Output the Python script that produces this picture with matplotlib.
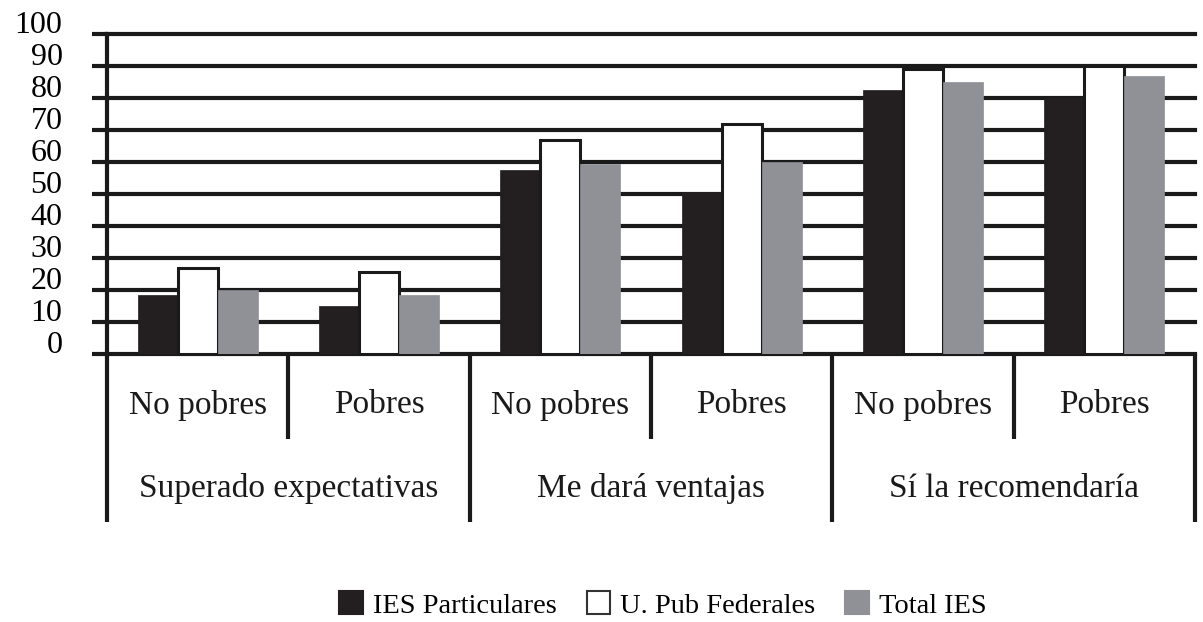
import matplotlib.pyplot as plt
import matplotlib.transforms as mtransforms
from matplotlib.patches import Patch
import numpy as np

plt.rcParams['font.family'] = ['Liberation Serif', 'DejaVu Serif']

# datos
sub_labels = ["No pobres", "Pobres", "No pobres", "Pobres", "No pobres", "Pobres"]
group_labels = ["Superado expectativas", "Me dará ventajas", "Sí la recomendaría"]
series_names = ["IES Particulares", "U. Pub Federales", "Total IES"]
ies_particulares = [18.5, 15, 57.5, 50.5, 82.5, 80]
u_pub_federales = [27, 25.5, 67, 72, 89, 90]
total_ies = [20, 18.5, 59.5, 60, 85, 87]
yticks = [0, 10, 20, 30, 40, 50, 60, 70, 80, 90, 100]

colors = ["#231f20", "white", "#8f9196"]
edges = ["#231f20", "#1a1a1a", "#8f9196"]

fig = plt.figure(figsize=(12.03, 6.22), dpi=100)
ax = fig.add_axes([107/1203, 1 - 354/622, (1195 - 107)/1203, 320/622])

x = np.arange(len(sub_labels))
w = 0.22
allvals = [ies_particulares, u_pub_federales, total_ies]
for i, vals in enumerate(allvals):
    ax.bar(x + (i - 1) * w, vals, w, color=colors[i], edgecolor=edges[i],
           linewidth=2.2 if i == 1 else 0.5, label=series_names[i], zorder=3)

ax.set_xlim(-0.5, 5.5)
ax.set_ylim(0, 100)
ax.set_yticks(yticks)
ax.set_xticks([])
ax.yaxis.grid(True, color="#1a1a1a", linewidth=3)
for gl in ax.get_ygridlines():
    gl.set_clip_on(False)
ax.set_axisbelow(True)
ax.tick_params(axis='y', direction='out', length=11, width=3, color="#1a1a1a",
               labelsize=23, pad=21)
offset = mtransforms.ScaledTranslation(0, 12/100, fig.dpi_scale_trans)
for lab in ax.get_yticklabels():
    lab.set_transform(lab.get_transform() + offset)

for s in ["top", "right", "bottom"]:
    ax.spines[s].set_visible(False)
ax.spines["left"].set_linewidth(3)
ax.spines["left"].set_color("#1a1a1a")

# lineas separadoras bajo el eje
tr = ax.get_xaxis_transform()
for b in np.arange(-0.5, 6, 1):
    long_line = int(b + 0.5) % 2 == 0
    ybot = -0.525 if long_line else -0.266
    ax.plot([b, b], [0, ybot], color="#1a1a1a", lw=3, transform=tr, clip_on=False,
            solid_capstyle='butt')

for i, s in enumerate(sub_labels):
    ax.text(i, -0.16, s, transform=tr, ha='center', va='center', fontsize=24,
            color="#1a1a1a")
for j, g in enumerate(group_labels):
    ax.text(2 * j + 0.5, -0.42, g, transform=tr, ha='center', va='center',
            fontsize=24, color="#1a1a1a")

handles = [Patch(facecolor=colors[i], edgecolor="#333333" if i == 1 else colors[i],
                 linewidth=1.5) for i in range(3)]
fig.legend(handles, series_names, loc='center', bbox_to_anchor=(663/1203, 1 - 605/622),
           ncol=3, frameon=False, fontsize=20.5, handlelength=0.84, handleheight=0.84,
           handletextpad=0.35, columnspacing=1.05, borderpad=0.1)

fig.savefig("out.png", dpi=100, facecolor="white")
